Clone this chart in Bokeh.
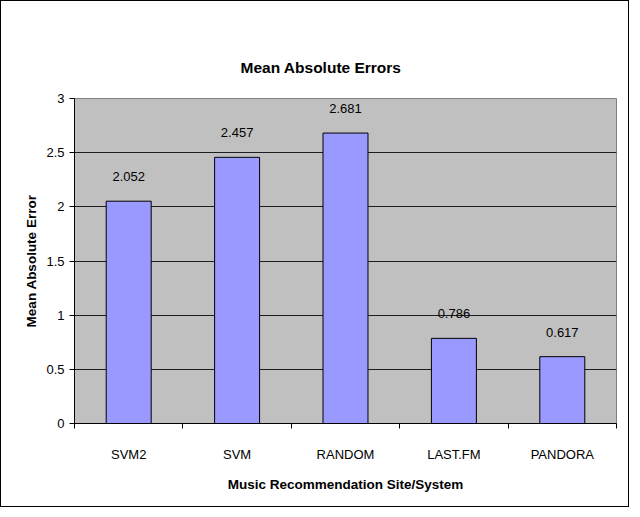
from bokeh.plotting import figure
from bokeh.models import ColumnDataSource, FixedTicker, Range1d, Title, LinearAxis
from bokeh.embed import file_html
from bokeh.resources import INLINE
import numpy as np

categories = ["SVM2", "SVM", "RANDOM", "LAST.FM", "PANDORA"]
mae = [2.052, 2.457, 2.681, 0.786, 0.617]
y_ticks = [0, 0.5, 1, 1.5, 2, 2.5, 3]
labels = ["2.052", "2.457", "2.681", "0.786", "0.617"]
title_text = "Mean Absolute Errors"

xpos = np.arange(len(categories)) + 0.5
src = ColumnDataSource(dict(x=xpos, top=mae, lab=labels))

FONT = "Liberation Sans"
W, H = 629, 507
BL, BR, BT, BB = 73, 14, 97, 85

p = figure(width=W, height=H, output_backend="svg", toolbar_location=None,
           x_range=Range1d(0, len(categories)), y_range=Range1d(0, 3),
           min_border_left=BL, min_border_right=BR, min_border_top=BT,
           min_border_bottom=BB)
p.styles = {"border": "1px solid black", "box-sizing": "border-box"}

xa = p.below[0]
ya = p.left[0]

p.background_fill_color = "#C0C0C0"
p.border_fill_color = "white"
p.outline_line_color = "#808080"
p.outline_line_width = 1

p.vbar(x="x", top="top", width=0.415, bottom=0, source=src,
       fill_color="#9999FF", line_color="black", line_width=1)
p.text(x="x", y="top", text="lab", source=src, text_align="center",
       text_baseline="bottom", y_offset=-20, text_font_size="13px",
       text_font={"value": FONT}, text_color="black")

# x axis
xa.ticker = FixedTicker(ticks=list(xpos), minor_ticks=list(range(len(categories) + 1)))
xa.major_label_overrides = {float(x): c for x, c in zip(xpos, categories)}
xa.major_tick_out = 0
xa.major_tick_in = 0
xa.minor_tick_out = 5
xa.minor_tick_in = 0
xa.major_label_standoff = 18
xa.axis_label = "Music Recommendation Site/System"
xa.axis_label_standoff = 12
xa.axis_label_text_font = FONT
xa.axis_label_text_font_size = "13.5px"
xa.axis_label_text_font_style = "bold"
xa.major_label_text_font = FONT
xa.major_label_text_font_size = "13px"
xa.axis_line_color = "black"

# y axis
ya.ticker = FixedTicker(ticks=y_ticks)
ya.major_tick_out = 5
ya.major_tick_in = 0
ya.minor_tick_line_color = None
ya.major_label_standoff = 5
ya.axis_label = "Mean Absolute Error"
ya.axis_label_standoff = 4
ya.axis_label_text_font = FONT
ya.axis_label_text_font_size = "13.5px"
ya.axis_label_text_font_style = "bold"
ya.major_label_text_font = FONT
ya.major_label_text_font_size = "13px"
ya.axis_line_color = "black"

for ax in (xa, ya):
    ax.major_label_text_color = "black"
    ax.axis_label_text_color = "black"

# invisible spacer between the frame and the chart title
spacer = LinearAxis(ticker=FixedTicker(ticks=[]), axis_line_color=None,
                    major_tick_line_color="white", minor_tick_line_color="white",
                    major_tick_out=31, major_tick_in=0, minor_tick_out=0,
                    minor_tick_in=0, major_label_standoff=0,
                    major_label_text_font_size="0px")
p.add_layout(spacer, "above")

t = Title(text=title_text, align="left", offset=166, text_font=FONT,
          text_font_size="15.5px", text_font_style="bold", standoff=45,
          text_color="black")
p.add_layout(t, "above")

p.xgrid.grid_line_color = None
p.ygrid.grid_line_color = "black"
p.ygrid.grid_line_alpha = 0.85

open("out.html", "w").write(file_html(p, INLINE))
